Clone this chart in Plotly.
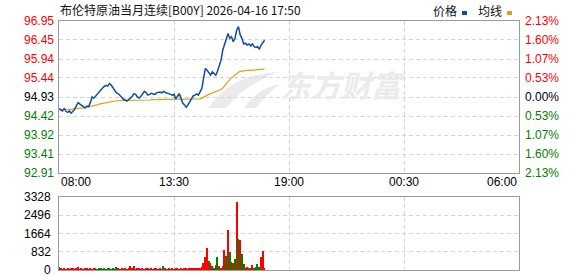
import plotly.graph_objects as go
import pandas as pd

# ---------------- data ----------------
title_text = "布伦特原油当月连续[B00Y] 2026-04-16 17:50"
legend_names = ["价格", "均线"]
watermark = "东方财富"

times = pd.date_range("2026-04-16 08:00", periods=119, freq="5min")

price = [
    94.62, 94.60, 94.56, 94.62, 94.55, 94.52, 94.56, 94.50, 94.55, 94.60,
    94.70, 94.78, 94.74, 94.70, 94.66, 94.64, 94.69, 94.67, 94.78, 94.93,
    94.90, 94.96, 95.02, 95.06, 95.12, 95.17, 95.21, 95.24, 95.22, 95.29,
    95.24, 95.17, 95.10, 95.04, 95.02, 94.96, 94.92, 94.87, 94.85, 94.82,
    94.86, 94.90, 94.95, 95.02, 95.00, 94.93, 94.90, 94.95, 95.02, 95.08,
    95.05, 94.98, 95.00, 95.03, 95.01, 95.00, 95.04, 95.05, 95.06, 95.04,
    95.08, 95.05, 95.04, 95.02, 95.00, 94.98, 95.00, 94.88, 94.95, 95.02,
    94.90, 94.77, 94.72, 94.66, 94.72, 94.80, 94.85, 94.96, 94.98, 95.01,
    94.98, 95.07, 95.16, 95.44, 95.69, 95.64, 95.56, 95.51, 95.60, 95.56,
    95.51, 95.62, 95.78, 95.91, 96.18, 96.31, 96.49, 96.62, 96.49, 96.53,
    96.40, 96.49, 96.71, 96.80, 96.58, 96.49, 96.34, 96.36, 96.31, 96.34,
    96.29, 96.34, 96.27, 96.25, 96.27, 96.20, 96.31, 96.37, 96.44,
]

avg_line = [
    94.60, 94.60, 94.60, 94.60, 94.60, 94.61, 94.61, 94.61, 94.61, 94.62,
    94.62, 94.62, 94.62, 94.63, 94.64, 94.65, 94.66, 94.67, 94.67, 94.68,
    94.69, 94.70, 94.72, 94.74, 94.75, 94.76, 94.77, 94.78, 94.79, 94.80,
    94.81, 94.82, 94.82, 94.83, 94.83, 94.84, 94.84, 94.84, 94.84, 94.84,
    94.84, 94.85, 94.85, 94.85, 94.85, 94.85, 94.85, 94.85, 94.85, 94.85,
    94.85, 94.85, 94.85, 94.86, 94.86, 94.86, 94.86, 94.86, 94.86, 94.86,
    94.86, 94.87, 94.87, 94.87, 94.87, 94.87, 94.87, 94.87, 94.87, 94.87,
    94.87, 94.87, 94.87, 94.87, 94.87, 94.87, 94.87, 94.87, 94.87, 94.87,
    94.87, 94.88, 94.90, 94.93, 94.96, 94.98, 95.00, 95.02, 95.04, 95.05,
    95.07, 95.08, 95.10, 95.13, 95.17, 95.22, 95.28, 95.34, 95.40, 95.44,
    95.48, 95.52, 95.56, 95.59, 95.61, 95.62, 95.63, 95.63, 95.64, 95.64,
    95.64, 95.65, 95.65, 95.65, 95.66, 95.66, 95.66, 95.67, 95.67,
]

volume = [
    150, 50, 45, 55, 40, 50, 45, 50, 55, 45,
    50, 150, 45, 50, 40, 55, 50, 45, 50, 40,
    55, 50, 45, 50, 55, 40, 50, 45, 50, 55,
    45, 50, 40, 150, 50, 45, 55, 40, 50, 45,
    50, 200, 50, 200, 45, 50, 55, 40, 50, 45,
    50, 55, 45, 50, 40, 55, 50, 45, 50, 40,
    200, 50, 45, 55, 40, 50, 45, 50, 55, 45,
    50, 40, 55, 50, 45, 50, 55, 60, 70, 80,
    90, 100, 150, 300, 600, 1015, 425, 300, 180, 80,
    230, 600, 180, 80, 180, 910, 650, 1825, 835, 380,
    335, 500, 3115, 1400, 1370, 730, 270, 90, 120, 80,
    90, 230, 80, 150, 270, 150, 600, 860, 100,
]

# r = up (red), g = down (green)
volume_dir = list(
    "grrrrrrrrr"
    "rrrrrrrrrr"
    "rrgggggggg"
    "ggggrrrrrr"
    "rrrrrrrrrr"
    "rrrrrrrrrr"
    "grrrrrrrrr"
    "rrrrrrrrrr"
    "rrrrrrgrrg"
    "ggrgrrgrgg"
    "rgrgrggrrg"
    "rrggggrrr"
)

prev_close = 94.93
price_ticks = [92.91, 93.41, 93.92, 94.42, 94.93, 95.44, 95.94, 96.45, 96.95]
pct_labels = ["2.13%", "1.60%", "1.07%", "0.53%", "0.00%", "0.53%", "1.07%", "1.60%", "2.13%"]
vol_ticks = [0, 832, 1664, 2496, 3328]
time_ticks = ["2026-04-16 08:00", "2026-04-16 13:30", "2026-04-16 19:00",
              "2026-04-17 00:30", "2026-04-17 06:00"]
time_labels = ["08:00", "13:30", "19:00", "00:30", "06:00"]

# ---------------- style ----------------
W, H = 578, 276
RED = "#ff0000"
GREEN = "#008000"
BLUE = "#0b4ea2"
GOLD = "#daa21e"
BORDER = "#9a9a9a"
GRID = "#d4d4d4"
WM = "#ebebeb"
NUM_FONT = "Liberation Sans, Arial, sans-serif"
CJK_FONT = "Noto Sans CJK SC, sans-serif"

def px_x(p):
    return p / W

def px_y(p):
    return 1 - p / H

def lab_color(v):
    if v > prev_close + 1e-9:
        return RED
    if v < prev_close - 1e-9:
        return GREEN
    return "#000000"

bar_colors = [RED if d == "r" else GREEN for d in volume_dir]

fig = go.Figure()

# watermark (below data)
fig.add_trace(go.Scatter(
    x=[pd.Timestamp("2026-04-16 21:29")], y=[95.12], mode="text",
    text=[f"<b><i>{watermark}</i></b>"],
    textfont=dict(family=CJK_FONT, size=30, color=WM),
    hoverinfo="skip", showlegend=False, xaxis="x", yaxis="y"))

fig.add_trace(go.Scatter(
    x=times, y=avg_line, mode="lines", line=dict(color=GOLD, width=1.2),
    hoverinfo="skip", showlegend=False, xaxis="x", yaxis="y"))
fig.add_trace(go.Scatter(
    x=times, y=price, mode="lines", line=dict(color=BLUE, width=1.5),
    hoverinfo="skip", showlegend=False, xaxis="x", yaxis="y"))

fig.add_trace(go.Bar(
    x=times, y=volume, marker=dict(color=bar_colors, line=dict(width=0)),
    width=4 * 60 * 1000, hoverinfo="skip", showlegend=False,
    xaxis="x2", yaxis="y2"))

x_dom = [px_x(59), px_x(519)]
x_range = ["2026-04-16 08:00", "2026-04-17 06:00"]
common_x = dict(
    domain=x_dom, type="date", range=x_range, tickvals=time_ticks,
    showticklabels=False, ticks="", showgrid=True, gridcolor=GRID,
    griddash="4px,3px", gridwidth=1, showline=True, mirror=True,
    linecolor=BORDER, linewidth=1, zeroline=False, fixedrange=True,
)
common_y = dict(
    showticklabels=False, ticks="", showgrid=True, gridcolor=GRID,
    griddash="4px,3px", showline=True, mirror=True, linecolor=BORDER,
    linewidth=1, zeroline=False, automargin=False,
)

fig.update_layout(
    width=W, height=H, margin=dict(l=0, r=0, t=0, b=0),
    paper_bgcolor="white", plot_bgcolor="white", showlegend=False,
    bargap=0,
    xaxis=dict(anchor="y", **common_x),
    xaxis2=dict(anchor="y2", **common_x),
    yaxis=dict(domain=[px_y(173), px_y(21)], range=[price_ticks[0], price_ticks[-1]],
               tickvals=price_ticks, anchor="x", **common_y),
    yaxis2=dict(domain=[px_y(270), px_y(197)], range=[vol_ticks[0], vol_ticks[-1]],
                tickvals=vol_ticks, anchor="x2", **common_y),
)

num_font = lambda c: dict(family=NUM_FONT, size=12, color=c)
annotations = []
for v, pl in zip(price_ticks, pct_labels):
    c = lab_color(v)
    annotations.append(dict(
        x=px_x(56), y=v, xref="paper", yref="y", text=f"{v:.2f}", showarrow=False,
        xanchor="right", yanchor="middle", font=num_font(c)))
    annotations.append(dict(
        x=px_x(523), y=v, xref="paper", yref="y", text=pl, showarrow=False,
        xanchor="left", yanchor="middle", font=num_font(c)))
for v in vol_ticks:
    annotations.append(dict(
        x=px_x(53), y=v, xref="paper", yref="y2", text=str(v), showarrow=False,
        xanchor="right", yanchor="middle", font=num_font("#000")))
for i, (t, lab) in enumerate(zip(time_ticks, time_labels)):
    xa = "left" if i == 0 else ("right" if i == len(time_ticks) - 1 else "center")
    annotations.append(dict(
        x=t, y=px_y(182), xref="x", yref="paper", text=lab, showarrow=False,
        xanchor=xa, yanchor="middle", font=num_font("#000")))

annotations.append(dict(
    x=px_x(58), y=px_y(9), xref="paper", yref="paper", text=title_text,
    showarrow=False, xanchor="left", yanchor="middle",
    font=dict(family=CJK_FONT, size=12, color="#111")))
annotations.append(dict(
    x=px_x(431), y=px_y(10), xref="paper", yref="paper", text=legend_names[0],
    showarrow=False, xanchor="left", yanchor="middle",
    font=dict(family=CJK_FONT, size=12, color="#111")))
annotations.append(dict(
    x=px_x(476), y=px_y(10), xref="paper", yref="paper", text=legend_names[1],
    showarrow=False, xanchor="left", yanchor="middle",
    font=dict(family=CJK_FONT, size=12, color="#111")))
fig.update_layout(annotations=annotations)

# watermark logo swoosh (decoration, paper coordinates)
def pt(x, y):
    return f"{px_x(x):.5f},{px_y(y):.5f}"

swoosh = (f"M {pt(208, 108)} Q {pt(232, 74)} {pt(278, 72)} "
          f"Q {pt(246, 84)} {pt(226, 108)} Z")
swoosh2 = (f"M {pt(244, 108)} Q {pt(258, 88)} {pt(280, 84)} "
           f"Q {pt(266, 94)} {pt(256, 108)} Z")

fig.update_layout(shapes=[
    dict(type="path", xref="paper", yref="paper", path=swoosh,
         fillcolor=WM, line=dict(width=0), layer="below"),
    dict(type="path", xref="paper", yref="paper", path=swoosh2,
         fillcolor=WM, line=dict(width=0), layer="below"),
    dict(type="rect", xref="paper", yref="paper",
         x0=px_x(462), x1=px_x(467), y0=px_y(15), y1=px_y(11),
         fillcolor=BLUE, line=dict(width=0)),
    dict(type="rect", xref="paper", yref="paper",
         x0=px_x(507), x1=px_x(512), y0=px_y(15), y1=px_y(11),
         fillcolor=GOLD, line=dict(width=0)),
])

fig.write_html("out.html")
